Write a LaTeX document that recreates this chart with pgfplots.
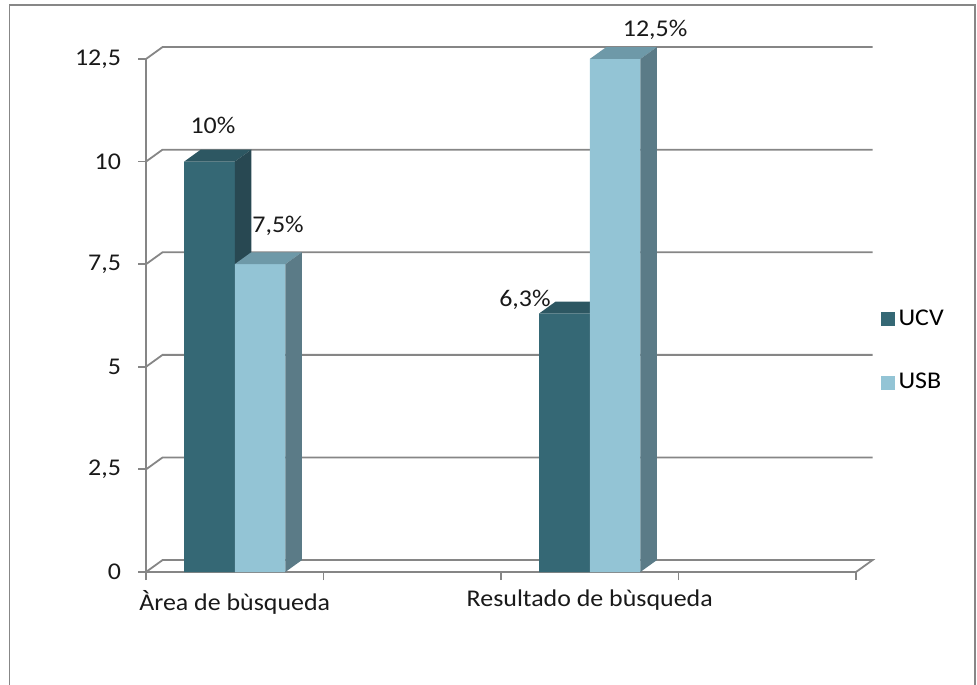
\documentclass[border=0pt]{standalone}
\usepackage{pgfplots}
\pgfplotsset{compat=1.18}
\usepackage{fontspec}
\setmainfont{Carlito}[FakeStretch=1.08]
\definecolor{ucvF}{RGB}{53,104,117}
\definecolor{ucvT}{RGB}{45,87,98}
\definecolor{ucvS}{RGB}{40,72,82}
\definecolor{usbF}{RGB}{147,196,213}
\definecolor{usbT}{RGB}{110,153,168}
\definecolor{usbS}{RGB}{91,123,135}
\definecolor{axgray}{RGB}{134,134,134}
\definecolor{framegray}{RGB}{135,135,135}
\begin{document}
\begin{tikzpicture}[x=0.5pt,y=0.5pt,font=\fontsize{12}{14.4}\selectfont]
\useasboundingbox (0,0) rectangle (977,684);
\draw[framegray, line width=0.8pt] (9.5,-5) -- (9.5,679) -- (975,679) -- (975,-5);
\begin{axis}[
  at={(73pt,56pt)}, anchor=south west,
  scale only axis, width=355pt, height=256.5pt,
  xmin=0, xmax=4, ymin=0, ymax=12.5, clip=false,
  axis lines*=left,
  axis line style={draw=axgray, line width=0.9pt},
  tick align=outside, major tick length=4pt,
  tick style={draw=axgray, line width=0.9pt},
  xtick={0,1,2,3,4}, xticklabels={},
  extra x ticks={0.5,2.5},
  extra x tick labels={Àrea de bùsqueda, Resultado de bùsqueda},
  extra x tick style={major tick length=0pt, tick label style={yshift=-5.5pt}},
  ytick={0,2.5,5,7.5,10,12.5},
  yticklabel style={xshift=-5pt},
  tick label style={font=\fontsize{12}{14.4}\selectfont, text=black!90},
  /pgf/number format/use comma,
  /pgf/number format/assume math mode=true,
  legend style={at={(1.034,0.431)}, anchor=west, draw=none, fill=none,
    inner sep=0pt, row sep=18.5pt, font=\fontsize{12}{14.4}\selectfont},
  legend cell align=left,
]
% back wall and floor
\addplot[axgray, line width=0.9pt, forget plot, unbounded coords=jump] coordinates {
 (0,0) (0.093,0.29) (4.093,0.29) (4,0)
 (nan,nan) (0,2.5) (0.093,2.79) (4.093,2.79)
 (nan,nan) (0,5) (0.093,5.29) (4.093,5.29)
 (nan,nan) (0,7.5) (0.093,7.79) (4.093,7.79)
 (nan,nan) (0,10) (0.093,10.29) (4.093,10.29)
 (nan,nan) (0,12.5) (0.093,12.79) (4.093,12.79)
};
% UCV
\addplot[ybar, bar width=0.285, bar shift=-0.1425, fill=ucvF, draw=none,
  legend image code/.code={\fill[ucvF] (0pt,-3.5pt) rectangle (7pt,3.5pt);}]
  coordinates {(0.5,10) (2.5,6.3)};
\addlegendentry{UCV}
\addplot[fill=ucvT, draw=none, forget plot] coordinates {(0.215,10) (0.5,10) (0.593,10.29) (0.308,10.29)};
\addplot[fill=ucvS, draw=none, forget plot] coordinates {(0.5,0) (0.593,0.29) (0.593,10.29) (0.5,10)};
\addplot[fill=ucvT, draw=none, forget plot] coordinates {(2.215,6.3) (2.5,6.3) (2.593,6.59) (2.308,6.59)};
\addplot[fill=ucvS, draw=none, forget plot] coordinates {(2.5,0) (2.593,0.29) (2.593,6.59) (2.5,6.3)};
% USB
\addplot[ybar, bar width=0.285, bar shift=0.1425, fill=usbF, draw=none,
  legend image code/.code={\fill[usbF] (0pt,-3.5pt) rectangle (7pt,3.5pt);}]
  coordinates {(0.5,7.5) (2.5,12.5)};
\addlegendentry{USB}
\addplot[fill=usbT, draw=none, forget plot] coordinates {(0.5,7.5) (0.785,7.5) (0.878,7.79) (0.593,7.79)};
\addplot[fill=usbS, draw=none, forget plot] coordinates {(0.785,0) (0.878,0.29) (0.878,7.79) (0.785,7.5)};
\addplot[fill=usbT, draw=none, forget plot] coordinates {(2.5,12.5) (2.785,12.5) (2.878,12.79) (2.593,12.79)};
\addplot[fill=usbS, draw=none, forget plot] coordinates {(2.785,0) (2.878,0.29) (2.878,12.79) (2.785,12.5)};
% data labels
\node[text=black!90] at (axis cs:0.377,10.89) {10\%};
\node[text=black!90] at (axis cs:0.744,8.43) {7,5\%};
\node[text=black!90] at (axis cs:2.135,6.63) {6,3\%};
\node[text=black!90] at (axis cs:2.868,13.21) {12,5\%};
\end{axis}
\end{tikzpicture}
\end{document}
